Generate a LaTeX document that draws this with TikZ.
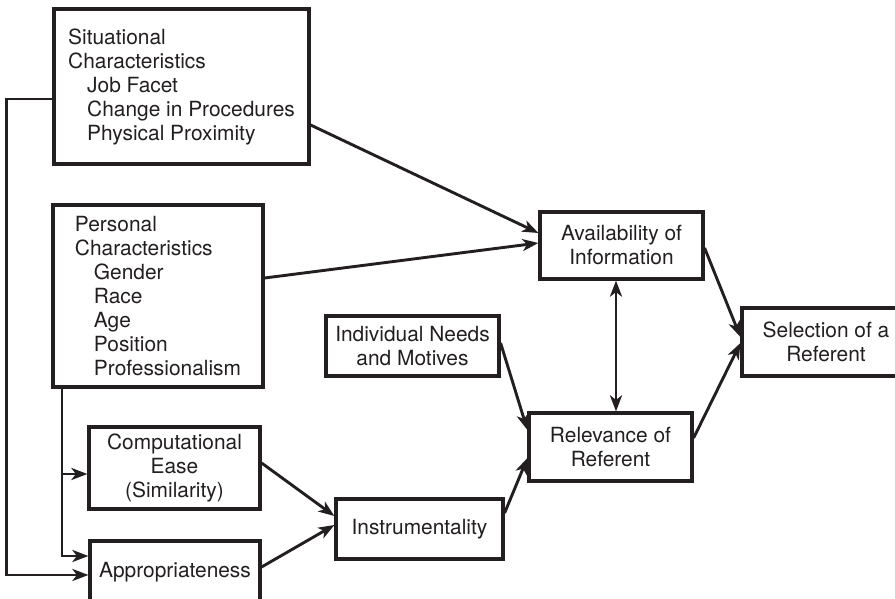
\documentclass[tikz,border=0pt]{standalone}
\usepackage{fontspec}
\setmainfont{TeX Gyre Heros}
\usetikzlibrary{arrows.meta}
\newlength{\boxrule}
\newlength{\linkrule}
\newlength{\indentstep}
\setlength{\boxrule}{3.2pt}
\setlength{\linkrule}{2.9pt}
\setlength{\indentstep}{19pt}
\definecolor{paper}{RGB}{255, 255, 255}
\definecolor{inkline}{HTML}{231F20}
\tikzset{
  >={Stealth[length=16pt,width=12pt,inset=4.5pt]},
  factor/.style={draw=inkline, line width=\boxrule, inner sep=0pt, align=center, text=inkline, font=\fontsize{20.9}{24}\selectfont},
  listfactor/.style={factor, align=left},
  link/.style={draw=inkline, line width=\linkrule, ->},
  twoway/.style={draw=inkline, line width=\linkrule, <->},
}

\begin{document}
\begin{tikzpicture}[x=1pt,y=-1pt]
				% Boundary box
				\fill[paper] (0,0) rectangle (895,599);
				\useasboundingbox (0,0) rectangle (895,599);

				% Antecedents on the left
				\node[listfactor, minimum width=255pt, minimum height=155pt] (situational) at (181.5,86.5)
					{Situational\\Characteristics\\\hspace*{\indentstep}Job Facet\\\hspace*{\indentstep}Change in Procedures\\\hspace*{\indentstep}Physical Proximity};
				\node[listfactor, minimum width=210pt, minimum height=182pt] (personal) at (158,296)
					{Personal\\Characteristics\\\hspace*{\indentstep}Gender\\\hspace*{\indentstep}Race\\\hspace*{\indentstep}Age\\\hspace*{\indentstep}Position\\\hspace*{\indentstep}Professionalism};
				\node[factor, minimum width=171pt, minimum height=82pt] (computational) at (174.5,468) {Computational\\Ease\\(Similarity)};
				\node[factor, minimum width=170pt, minimum height=62pt] (appropriateness) at (175,572) {Appropriateness};

				% Middle column
				\node[factor, minimum width=167pt, minimum height=60pt] (instrumentality) at (419.5,529) {Instrumentality};
				\node[factor, minimum width=173pt, minimum height=60pt] (needs) at (412.5,346) {Individual Needs\\and Motives};
				\node[factor, minimum width=163pt, minimum height=67pt] (availability) at (621.5,245.5) {Availability of\\Information};
				\node[factor, minimum width=163pt, minimum height=68pt] (relevance) at (610.5,447) {Relevance of\\Referent};

				% Outcome
				\node[factor, minimum width=168pt, minimum height=68pt] (selection) at (826,342) {Selection of a\\Referent};

				% Links into availability
				\draw[link] ([yshift=-38.5pt]situational.east) -- ([yshift=12.5pt]availability.west);
				\draw[link] ([yshift=18pt]personal.east) -- ([yshift=2.5pt]availability.west);

				% Rail from situational characteristics to appropriateness
				\draw[link] ([yshift=-12.5pt]situational.west) -- ++(-46,0) |- ([yshift=-3pt]appropriateness.west);

				% Branches from personal characteristics
				\coordinate (tap) at (62,474);
				\draw[link] ([xshift=-96pt]personal.south) |- ([yshift=16pt]appropriateness.west);
				\draw[link] (tap) -- (tap -| computational.west);

				% Links into instrumentality
				\draw[link] ([yshift=5pt]computational.east) -- ([yshift=13pt]instrumentality.west);
				\draw[link] ([yshift=5pt]appropriateness.east) -- ([yshift=4pt]instrumentality.west);

				% Links into relevance
				\draw[link] ([yshift=3pt]needs.east) -- ([yshift=17pt]relevance.west);
				\draw[link] ([yshift=16pt]instrumentality.east) -- ([yshift=-11pt]relevance.west);
				\draw[twoway] ([xshift=-5.5pt]availability.south) -- ([xshift=-5.5pt]availability.south |- relevance.north);

				% Links into selection
				\draw[link] ([yshift=-2.5pt]availability.east) -- ([yshift=5pt]selection.west);
				\draw[link] ([yshift=9pt]relevance.east) -- ([yshift=-1pt]selection.west);
			\end{tikzpicture}
\end{document}
